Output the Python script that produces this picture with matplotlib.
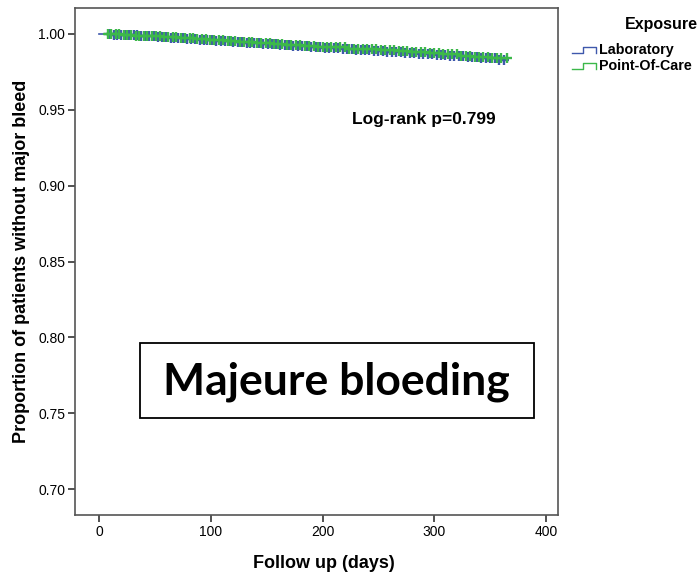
import numpy as np
import matplotlib.pyplot as plt
from matplotlib.patches import Rectangle

# Kaplan-Meier step points (days, survival) per exposure group
lab_t = [0, 12, 25, 38, 50, 63, 76, 90, 104, 118, 132, 146, 160, 174, 188, 202, 216,
         230, 244, 258, 272, 286, 300, 314, 328, 342, 356, 365]
lab_s = [1.0000, 0.9995, 0.9990, 0.9984, 0.9978, 0.9972, 0.9966, 0.9960, 0.9953, 0.9946,
         0.9940, 0.9933, 0.9926, 0.9920, 0.9913, 0.9906, 0.9900, 0.9893, 0.9886, 0.9880,
         0.9873, 0.9866, 0.9860, 0.9853, 0.9846, 0.9838, 0.9826, 0.9826]
poc_t = [8, 20, 33, 45, 58, 71, 85, 98, 112, 126, 140, 154, 168, 182, 196, 210, 224,
         238, 252, 266, 280, 294, 308, 322, 336, 350, 365]
poc_s = [1.0000, 0.9994, 0.9988, 0.9983, 0.9977, 0.9971, 0.9965, 0.9959, 0.9953, 0.9947,
         0.9941, 0.9935, 0.9929, 0.9922, 0.9916, 0.9910, 0.9903, 0.9897, 0.9891, 0.9884,
         0.9878, 0.9871, 0.9864, 0.9857, 0.9850, 0.9838, 0.9838]

# censored observations (days)
lab_cens = [9, 13, 16, 20, 23, 27, 31, 34, 38, 41, 45, 49, 53, 56, 60, 64, 67, 71, 75, 79,
            82, 86, 90, 94, 97, 101, 105, 109, 113, 116, 120, 124, 128, 132, 135, 139, 143,
            147, 151, 155, 158, 162, 166, 170, 174, 178, 182, 186, 190, 194, 198, 202, 206,
            210, 214, 218, 222, 226, 230, 234, 238, 242, 246, 250, 254, 258, 262, 266, 270,
            274, 278, 282, 286, 290, 294, 298, 302, 306, 310, 314, 318, 322, 326, 330, 334,
            338, 342, 346, 350, 354, 358, 362]
poc_cens = [8, 11, 15, 18, 22, 25, 29, 33, 36, 40, 43, 47, 51, 55, 58, 62, 66, 69, 73, 77,
            81, 84, 88, 92, 96, 99, 103, 107, 111, 115, 118, 122, 126, 130, 134, 137, 141,
            145, 149, 153, 157, 160, 164, 168, 172, 176, 180, 184, 188, 192, 196, 200, 204,
            208, 212, 216, 220, 224, 228, 232, 236, 240, 244, 248, 252, 256, 260, 264, 268,
            272, 276, 280, 284, 288, 292, 296, 300, 304, 308, 312, 316, 320, 324, 328, 332,
            336, 340, 344, 348, 352, 356, 360, 365]

blue = '#3e58ac'
green = '#3cb84a'

def surv_at(t, times, surv):
    idx = np.searchsorted(times, t, side='right') - 1
    return np.array(surv)[np.clip(idx, 0, len(surv) - 1)]

plt.rcParams['font.family'] = ['Liberation Sans', 'DejaVu Sans']

fig = plt.figure(figsize=(6.98, 5.72), dpi=100)
ax = fig.add_axes([75 / 698, 1 - 515 / 572, 483 / 698, 507 / 572])

ax.step(lab_t, lab_s, where='post', color=blue, lw=1.2)
ax.plot(lab_cens, surv_at(lab_cens, lab_t, lab_s), '+', color=blue, ms=7.5, mew=1.7)
ax.step(poc_t, poc_s, where='post', color=green, lw=1.2)
ax.plot(poc_cens, surv_at(poc_cens, poc_t, poc_s), '+', color=green, ms=7.5, mew=1.7)

ax.set_xlim(-21.5, 410.7)
ax.set_ylim(0.683, 1.017)
ax.set_xticks([0, 100, 200, 300, 400])
ax.set_yticks([0.70, 0.75, 0.80, 0.85, 0.90, 0.95, 1.00])
ax.set_yticklabels(['0.70', '0.75', '0.80', '0.85', '0.90', '0.95', '1.00'])
ax.tick_params(direction='out', length=5, width=1.2, labelsize=10, color='#333333', pad=2)
for sp in ax.spines.values():
    sp.set_color('#555555')
    sp.set_linewidth(1.2)

ax.set_xlabel('Follow up (days)', fontsize=13, fontweight='bold', labelpad=12)
ax.xaxis.label.set_x(0.5155)
ax.set_ylabel('Proportion of patients without major bleed', fontsize=13,
              fontweight='bold', labelpad=6)

ax.text(0.7226, 0.781, 'Log-rank p=0.799', transform=ax.transAxes, fontsize=12.5,
        fontweight='bold', ha='center', va='center')

ax.add_patch(Rectangle((0.1346, 0.191), 0.8154, 0.148, transform=ax.transAxes,
                       fc='white', ec='black', lw=1.3, zorder=3))
ax.text(0.542, 0.262, 'Majeure bloeding', transform=ax.transAxes, fontsize=32,
        fontweight='bold', family=['Lato', 'DejaVu Sans'], ha='center', va='center',
        zorder=4)

# legend with step-shaped keys
fig.text(698 / 698, 1 - 25 / 572, 'Exposure', fontsize=11.5, fontweight='bold',
         ha='right', va='center')
for y, col, lab in [(50, blue, 'Laboratory'), (66, green, 'Point-Of-Care')]:
    xs = np.array([572, 583, 583, 596, 596]) / 698
    ys = 1 - np.array([y + 3, y + 3, y - 3, y - 3, y + 3]) / 572
    fig.add_artist(plt.Line2D(xs, ys, color=col, lw=1))
    fig.text(599 / 698, 1 - y / 572, lab, fontsize=10.3, fontweight='bold',
             ha='left', va='center')

fig.savefig('out.png', dpi=100)
